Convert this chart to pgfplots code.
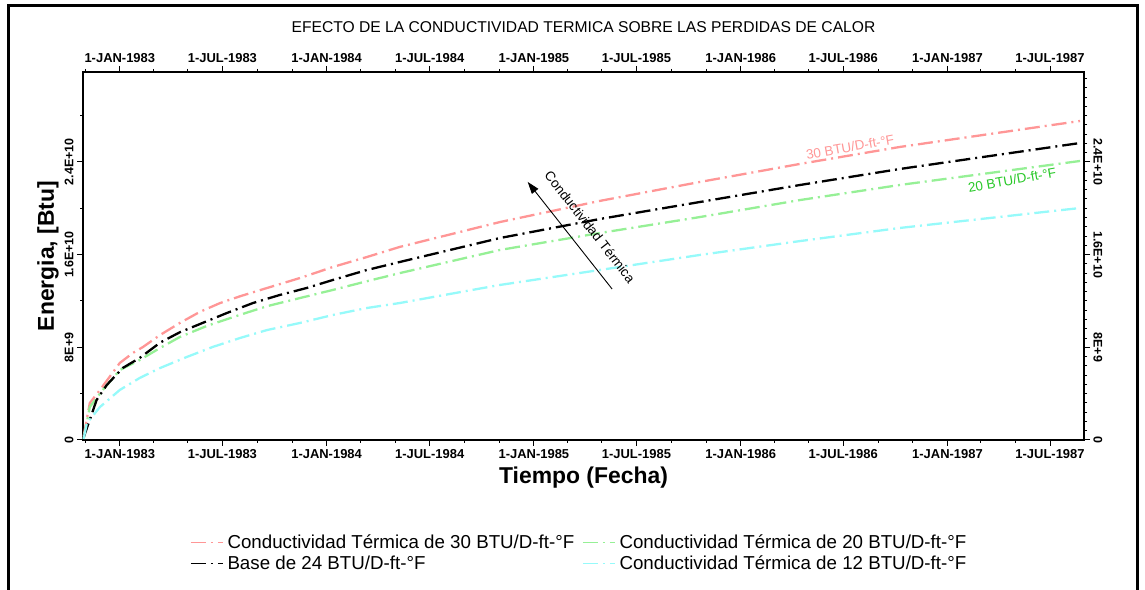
\documentclass[border=0pt]{standalone}
\usepackage{fontspec}
\setmainfont{Liberation Sans}
\usepackage{pgfplots}
\pgfplotsset{compat=1.18}
\usetikzlibrary{arrows.meta}

\definecolor{redc}{RGB}{255,150,150}
\definecolor{greenc}{RGB}{150,240,150}
\definecolor{cyanc}{RGB}{150,250,250}
\definecolor{greentxt}{RGB}{40,200,40}

\tikzset{dd/.style={line width=2.3bp, dash pattern=on 15bp off 5bp on 2bp off 5bp}}

\begin{document}
\begin{tikzpicture}[x=1bp,y=1bp]
\path[use as bounding box] (0,0) rectangle (1145,590);
\draw[line width=3bp] (8,-20) -- (8,584) -- (1137,584) -- (1137,-20);

% top and right scales
\begin{axis}[
    at={(83bp,150bp)}, anchor=south west,
    scale only axis, width=1001bp, height=368bp,
    xmin=-65, xmax=1702, ymin=0, ymax=31.76,
    axis line style={line width=1.3bp},
    tick align=outside,
    major tick length=6bp, minor tick length=3bp,
    every tick/.style={black, line width=1bp},
    xtick pos=right, ytick pos=right,
    xticklabel pos=right, yticklabel pos=right,
    xtick={0,181,365,547,731,912,1096,1277,1461,1642},
    xticklabels={1-JAN-1983,1-JUL-1983,1-JAN-1984,1-JUL-1984,1-JAN-1985,1-JUL-1985,1-JAN-1986,1-JUL-1986,1-JAN-1987,1-JUL-1987},
    minor xtick={-61,59,120,243,304,425,486,609,670,790,851,974,1035,1155,1216,1339,1400,1520,1581},
    ytick={0,8,16,24},
    yticklabels={0,8E+9,1.6E+10,2.4E+10},
    minor ytick={0.8,1.6,2.4,3.2,4,4.8,5.6,6.4,7.2,8.8,9.6,10.4,11.2,12,12.8,13.6,14.4,15.2,16.8,17.6,18.4,19.2,20,20.8,21.6,22.4,23.2,24.8,25.6,26.4,27.2,28,28.8,29.6,30.4,31.2},
    xticklabel style={font=\bfseries\fontsize{13}{15}\selectfont, anchor=south},
    yticklabel style={font=\bfseries\fontsize{12.5}{14}\selectfont, rotate=-90, anchor=south},
    title={EFECTO DE LA CONDUCTIVIDAD TERMICA SOBRE LAS PERDIDAS DE CALOR},
    title style={font=\fontsize{15.7}{18}\selectfont, at={(axis description cs:0.5,1)}, anchor=center, yshift=39bp},
]
\end{axis}

% main axis with data
\begin{axis}[
    at={(83bp,150bp)}, anchor=south west,
    scale only axis, width=1001bp, height=368bp,
    xmin=-65, xmax=1702, ymin=0, ymax=31.76,
    axis line style={line width=1.3bp},
    tick align=outside,
    major tick length=6bp, minor tick length=3bp,
    every tick/.style={black, line width=1bp},
    xtick pos=left, ytick pos=left,
    xtick={0,181,365,547,731,912,1096,1277,1461,1642},
    xticklabels={1-JAN-1983,1-JUL-1983,1-JAN-1984,1-JUL-1984,1-JAN-1985,1-JUL-1985,1-JAN-1986,1-JUL-1986,1-JAN-1987,1-JUL-1987},
    minor xtick={-61,59,120,243,304,425,486,609,670,790,851,974,1035,1155,1216,1339,1400,1520,1581},
    ytick={0,8,16,24},
    yticklabels={0,8E+9,1.6E+10,2.4E+10},
    minor ytick={4,12,20,28},
    xticklabel style={font=\bfseries\fontsize{13}{15}\selectfont, anchor=north},
    yticklabel style={font=\bfseries\fontsize{12.5}{14}\selectfont, rotate=90, anchor=south},
    xlabel={Tiempo (Fecha)},
    xlabel style={font=\bfseries\fontsize{23}{26}\selectfont, at={(axis description cs:0.5,-0.1033)}, anchor=center},
    ylabel={Energia, [Btu]},
    ylabel style={font=\bfseries\fontsize{23}{26}\selectfont, at={(axis description cs:-0.035,0.5)}, anchor=center},
    legend columns=2,
    legend style={at={(0.107,-0.2554)}, anchor=north west, draw=none, fill=none,
        inner sep=0pt, row sep=3bp,
        font=\fontsize{18.8}{21}\selectfont,
        nodes={inner sep=1bp, anchor=west},
        /tikz/every odd column/.append style={column sep=3bp},
        /tikz/every even column/.append style={column sep=7bp}},
    legend image code/.code={\draw[#1, line width=1.2bp] (0bp,0bp) -- (32bp,0bp);},
    clip=false,
]
\addplot[redc, dd] coordinates {
(-64,0.3) (-53,3.19) (-35,4.32) (0,6.65) (23,7.51) (41,8.03) (71,9.06) (106,10.10)
(141,11.05) (177,11.82) (212,12.40) (260,13.12) (318,13.98) (376,14.93) (436,15.79)
(494,16.66) (671,18.81) (847,20.63) (1024,22.27) (1200,23.82) (1377,25.29) (1695,27.53)};
\addlegendentry{Conductividad Térmica de 30 BTU/D-ft-°F}

\addplot[greenc, dd] coordinates {
(-64,0.1) (-53,2.85) (-30,4.32) (0,6.04) (35,6.90) (71,7.94) (106,8.89) (154,9.85)
(212,10.80) (260,11.55) (318,12.25) (376,12.95) (436,13.70) (494,14.40) (671,16.40)
(847,17.86) (1024,19.24) (1201,20.71) (1377,22.01) (1695,24.08)};
\addlegendentry{Conductividad Térmica de 20 BTU/D-ft-°F}

\addplot[black, dd] coordinates {
(-64,0.2) (-41,3.45) (-23,4.75) (5,6.21) (35,7.08) (71,8.40) (106,9.30) (141,10.00)
(189,10.96) (235,11.82) (282,12.51) (330,13.12) (376,13.81) (436,14.67) (494,15.36)
(671,17.43) (847,19.07) (1024,20.54) (1201,22.01) (1377,23.39) (1695,25.63)};
\addlegendentry{Base de 24 BTU/D-ft-°F}

\addplot[cyanc, dd] coordinates {
(-64,0.1) (-58,1.47) (-35,2.85) (0,4.32) (35,5.35) (71,6.21) (118,7.16) (164,8.03)
(212,8.80) (260,9.49) (318,10.10) (376,10.79) (436,11.39) (494,11.82) (671,13.38)
(847,14.67) (1024,15.97) (1201,17.17) (1377,18.30) (1695,20.02)};
\addlegendentry{Conductividad Térmica de 12 BTU/D-ft-°F}

\draw[line width=0.9bp, -{Triangle[length=12bp,width=8bp]}] (axis cs:869,13.03) -- (axis cs:720,22.27);
\node[rotate=-52, font=\fontsize{13.5}{15}\selectfont] at (axis cs:830,18.4) {Conductividad Térmica};
\node[rotate=10, text=redc, font=\fontsize{13.5}{15}\selectfont] at (axis cs:1289,25.29) {30 BTU/D-ft-°F};
\node[rotate=10, text=greentxt, font=\fontsize{13.5}{15}\selectfont] at (axis cs:1575,22.44) {20 BTU/D-ft-°F};
\end{axis}
\end{tikzpicture}
\end{document}
